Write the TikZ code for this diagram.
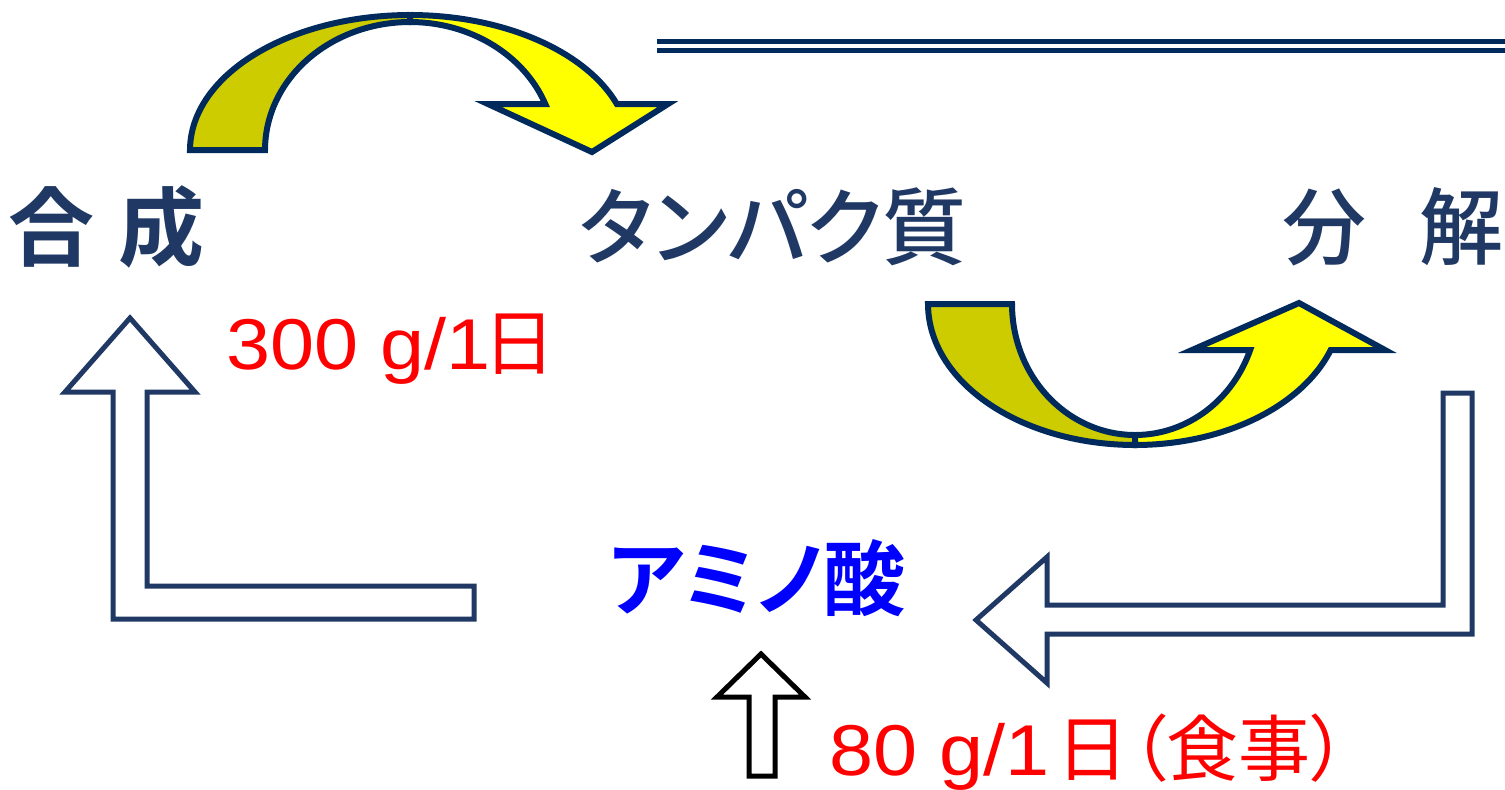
\documentclass[tikz,border=0pt]{standalone}
\usepackage{fontspec}
\setmainfont{Liberation Sans}
\newfontfamily\redfont[FakeStretch=1.1]{Liberation Sans}
\newfontfamily\jp[RawFeature=+palt, BoldFont={Noto Sans CJK JP Bold}]{Noto Sans CJK JP}
\newfontfamily\jpm[RawFeature=+palt]{Noto Sans CJK JP Medium}
\definecolor{navytext}{RGB}{31,56,100}
\definecolor{arrline}{RGB}{0,42,92}
\definecolor{lline}{RGB}{32,56,100}
\definecolor{darkyel}{RGB}{204,204,0}
\definecolor{yel}{RGB}{255,255,0}
\definecolor{redtxt}{RGB}{255,0,0}
\definecolor{bluetxt}{RGB}{0,0,255}
\tikzset{
  band/.style={draw=arrline, line width=3pt, line join=miter},
  larrow/.style={draw=lline, fill=white, line width=2.5pt, line join=miter},
  barrow/.style={draw=black, fill=white, line width=2.5pt, line join=miter},
  dline/.style={draw=arrline, line width=2.3pt},
  navylabel/.style={text=navytext, inner sep=0pt, font=\jpm\fontsize{42}{50}\selectfont},
  redlabel/.style={text=redtxt, inner sep=0pt, anchor=base west, font=\redfont\fontsize{36}{42}\selectfont},
}
\begin{document}
\begin{tikzpicture}[x=0.5pt,y=-0.5pt]
\useasboundingbox (0,0) rectangle (1505,789);

% double line
\draw[dline] (657,41.5) -- (1505,41.5);
\draw[dline] (657,50.5) -- (1505,50.5);

% top curved arrow (synthesis)
\filldraw[band, fill=darkyel]
  plot[domain=180:270, samples=50] ({410+220*cos(\x)},{150+135*sin(\x)})
  -- plot[domain=270:180, samples=50] ({410+145*cos(\x)},{150+128*sin(\x)})
  -- cycle;
\filldraw[band, fill=yel]
  plot[domain=270:340.08, samples=50] ({410+220*cos(\x)},{150+135*sin(\x)})
  -- (668,104) -- (592,152) -- (488,104)
  -- plot[domain=338.94:270, samples=50] ({410+145*cos(\x)},{150+128*sin(\x)})
  -- cycle;

% bottom curved arrow (decomposition)
\filldraw[band, fill=darkyel]
  plot[domain=180:90, samples=50] ({1135+207*cos(\x)},{304+141*sin(\x)})
  -- plot[domain=90:180, samples=50] ({1135+123*cos(\x)},{304+131*sin(\x)})
  -- cycle;
\filldraw[band, fill=yel]
  plot[domain=90:19.04, samples=50] ({1135+207*cos(\x)},{304+141*sin(\x)})
  -- (1385,350) -- (1299,303) -- (1192,350)
  -- plot[domain=20.56:90, samples=50] ({1135+123*cos(\x)},{304+131*sin(\x)})
  -- cycle;

% left L arrow (up)
\draw[larrow] (130,318) -- (195,392) -- (147,392) -- (147,586) -- (474,586)
  -- (474,619) -- (113,619) -- (113,392) -- (65,392) -- cycle;

% right L arrow (left)
\draw[larrow] (1472,393) -- (1472,634) -- (1047,634) -- (1047,683) -- (976,620)
  -- (1047,557) -- (1047,605) -- (1443,605) -- (1443,393) -- cycle;

% bottom small arrow (up)
\draw[barrow] (761,654) -- (805,697) -- (775,697) -- (775,776) -- (749,776)
  -- (749,697) -- (717,697) -- cycle;

% labels
\node[navylabel, font=\jp\bfseries\fontsize{43}{50}\selectfont] (gosei) at (107,227) {合\hspace{0.28em}成};
\node[navylabel] (tanpaku) at (773,227) {タンパク質};
\node[navylabel] (bunkai) at (1393,227) {分\hspace{0.63em}解};
\node[text=bluetxt, inner sep=0pt, font=\jp\bfseries\fontsize{41}{50}\selectfont] (amino) at (757,578) {アミノ酸};
\node[redlabel] (r300) at (226,369) {300 g/1\hspace{-0.1em}{\jp 日}};
\node[redlabel] (r80) at (829,775) {80 g/1\hspace{0.1em}{\jp 日\hspace{0.03em}（食事）}};
\end{tikzpicture}
\end{document}
